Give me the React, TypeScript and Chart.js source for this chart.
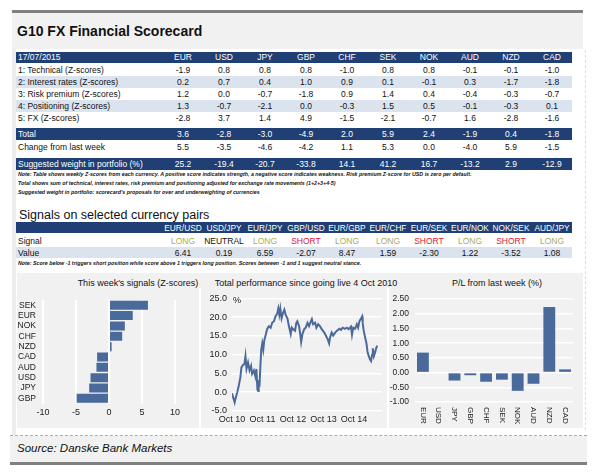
import React, { useEffect, useRef } from 'react';
import { Chart, registerables } from 'chart.js';
Chart.register(...registerables);

// ---------- DATA ----------
const reportDate = '17/07/2015';
const currencies = ['EUR', 'USD', 'JPY', 'GBP', 'CHF', 'SEK', 'NOK', 'AUD', 'NZD', 'CAD'];
const technical = [-1.9, 0.8, 0.8, 0.8, -1.0, 0.8, 0.8, -0.1, -0.1, -1.0];
const interestRates = [0.2, 0.7, 0.4, 1.0, 0.9, 0.1, -0.1, 0.3, -1.7, -1.8];
const riskPremium = [1.2, 0.0, -0.7, -1.8, 0.9, 1.4, 0.4, -0.4, -0.3, -0.7];
const positioning = [1.3, -0.7, -2.1, 0.0, -0.3, 1.5, 0.5, -0.1, -0.3, 0.1];
const fxScores = [-2.8, 3.7, 1.4, 4.9, -1.5, -2.1, -0.7, 1.6, -2.8, -1.6];
const totals = [3.6, -2.8, -3.0, -4.9, 2.0, 5.9, 2.4, -1.9, 0.4, -1.8];
const changes = [5.5, -3.5, -4.6, -4.2, 1.1, 5.3, 0.0, -4.0, 5.9, -1.5];
const weights = [25.2, -19.4, -20.7, -33.8, 14.1, 41.2, 16.7, -13.2, 2.9, -12.9];

const pairs = ['EUR/USD', 'USD/JPY', 'EUR/JPY', 'GBP/USD', 'EUR/GBP', 'EUR/CHF', 'EUR/SEK', 'EUR/NOK', 'NOK/SEK', 'AUD/JPY'];
const pairSignals = ['LONG', 'NEUTRAL', 'LONG', 'SHORT', 'LONG', 'LONG', 'SHORT', 'LONG', 'SHORT', 'LONG'];
const pairValues = [6.41, 0.19, 6.59, -2.07, 8.47, 1.59, -2.30, 1.22, -3.52, 1.08];

const signalCurrencies = ['SEK', 'EUR', 'NOK', 'CHF', 'NZD', 'CAD', 'AUD', 'USD', 'JPY', 'GBP'];
const signalScores = [5.9, 3.6, 2.4, 2.0, 0.4, -1.8, -1.9, -2.8, -3.0, -4.9];

// months since 4 Oct 2010
const perfMonths = [0, 1.05, 1.3, 2.0, 2.6, 3.3, 3.7, 4.4, 4.9, 5.3,
  5.7, 6.3, 6.9, 7.5, 7.9, 8.6, 9.2, 9.6, 10.0, 10.3,
  10.5, 10.8, 11.2, 11.5, 11.9, 12.3, 12.7, 13.2, 13.8, 14.5,
  15.2, 15.8, 16.5, 17.1, 17.8, 18.2, 18.6, 19.0, 19.5, 20.0,
  20.6, 21.1, 21.8, 22.4, 23.1, 23.5, 24.0, 24.8, 25.3, 25.7,
  26.4, 26.9, 27.2, 27.7, 28.4, 29.0, 29.7, 30.3, 31.0, 31.4,
  31.9, 32.7, 33.2, 33.9, 34.6, 35.3, 36.3, 36.9, 37.6, 38.2,
  38.6, 39.2, 39.8, 40.5, 41.3, 42.2, 42.9, 43.5, 44.4, 45.2,
  45.9, 46.8, 47.2, 47.7, 48.4, 49.1, 49.6, 50.1, 50.8, 51.2,
  51.4, 51.8, 52.5, 52.9, 53.3, 53.8, 54.3, 54.7, 55.1, 55.4,
  55.8, 56.2, 56.7, 57.1];
const perfValues = [-0.3, -2.7, -1.9, -0.2, 1.5, 4.0, 6.6, 7.3, 7.5, 9.6,
  6.2, 7.9, 5.8, 7.0, 4.9, 5.8, 4.2, 6.2, 0.7, 0.3,
  3.2, 1.5, 7.5, 11.3, 13.0, 11.3, 13.8, 15.1, 16.8, 17.6,
  17.2, 18.5, 18.9, 20.2, 21.0, 22.3, 20.6, 22.3, 19.7, 21.0,
  22.0, 20.6, 19.7, 17.6, 15.5, 17.2, 16.8, 16.4, 18.5, 18.9,
  17.6, 15.1, 13.4, 15.5, 16.8, 17.2, 18.5, 17.6, 18.9, 19.5,
  18.1, 18.5, 17.2, 18.1, 17.6, 16.8, 15.9, 15.1, 14.2, 13.0,
  14.7, 15.9, 15.1, 15.8, 16.4, 16.9, 16.6, 17.2, 16.9, 17.2,
  16.8, 17.5, 15.3, 17.2, 16.9, 18.1, 17.2, 18.9, 19.7, 20.2,
  18.5, 16.4, 14.2, 13.0, 10.8, 9.6, 8.7, 8.3, 10.0, 11.7,
  9.6, 10.4, 11.7, 12.4];
const perfTickMonths = [0, 12, 24, 36, 48];
const perfTickLabels = ['Oct 10', 'Oct 11', 'Oct 12', 'Oct 13', 'Oct 14'];

const plCurrencies = ['EUR', 'USD', 'JPY', 'GBP', 'CHF', 'SEK', 'NOK', 'AUD', 'NZD', 'CAD'];
const plValues = [0.68, 0.0, -0.27, -0.09, -0.31, -0.24, -0.62, -0.38, 2.23, 0.11];

// ---------- STYLE ----------
const FONT = '"Liberation Sans", Arial, Helvetica, sans-serif';
const NAVY = '#1f3f75';
const SHADE = '#dbe3ef';
const BAR = '#4a6a9b';
const PANEL = '#f1f1f1';
const LONG_C = '#a8ad5a';
const SHORT_C = '#d4163c';
const TXT = '#111111';

const colX = (i: number) => 183 + i * 41;

type TP = { x: number; y: number; w?: number; align?: 'left' | 'center' | 'right'; size?: number; color?: string; weight?: string | number; italic?: boolean; lh?: number; children: React.ReactNode };
function T({ x, y, w, align = 'left', size = 8.5, color = TXT, weight = 'normal', italic = false, lh = 12, children }: TP) {
  let left = x;
  const width = w ?? 0;
  if (w !== undefined) {
    if (align === 'center') left = x - width / 2;
    if (align === 'right') left = x - width;
  }
  return (
    <div style={{
      position: 'absolute', left, top: y - lh / 2, width: w, height: lh, lineHeight: lh + 'px',
      fontSize: size, color, fontWeight: weight as any, fontStyle: italic ? 'italic' : 'normal',
      textAlign: align, whiteSpace: 'nowrap', fontFamily: FONT,
    }}>{children}</div>
  );
}

function Band({ x, y, w, h, bg }: { x: number; y: number; w: number; h: number; bg: string }) {
  return <div style={{ position: 'absolute', left: x, top: y, width: w, height: h, background: bg }} />;
}

const rotatedLabels = {
  id: 'rotLabels',
  afterDraw(chart: any) {
    const { ctx } = chart;
    const xs = chart.scales.x;
    const ys = chart.scales.y;
    ctx.save();
    ctx.fillStyle = '#222';
    ctx.font = `8px ${FONT}`;
    ctx.textAlign = 'left';
    ctx.textBaseline = 'middle';
    (chart.data.labels as string[]).forEach((lab, i) => {
      const px = xs.getPixelForValue(i);
      ctx.save();
      ctx.translate(px, ys.bottom + 5);
      ctx.rotate(Math.PI / 2);
      ctx.fillText(lab, 0, 0);
      ctx.restore();
    });
    ctx.restore();
  },
};

export default function App() {
  const c1 = useRef<HTMLCanvasElement>(null);
  const c2 = useRef<HTMLCanvasElement>(null);
  const c3 = useRef<HTMLCanvasElement>(null);

  useEffect(() => {
    document.body.style.margin = '0';
    Chart.defaults.font.family = FONT;
    Chart.defaults.color = '#222';

    const ch1 = new Chart(c1.current!, {
      type: 'bar',
      data: {
        labels: signalCurrencies,
        datasets: [{ data: signalScores, backgroundColor: BAR, barPercentage: 0.87, categoryPercentage: 1 }],
      },
      options: {
        indexAxis: 'y',
        animation: false,
        responsive: false,
        maintainAspectRatio: false,
        plugins: { legend: { display: false }, tooltip: { enabled: false } },
        layout: { padding: { top: 4.5, right: 24, bottom: 0, left: 0 } },
        scales: {
          x: {
            min: -10, max: 10,
            ticks: { stepSize: 5, font: { size: 9 }, padding: 4, color: '#222' },
            grid: { color: '#ffffff', lineWidth: 2, drawTicks: false },
            border: { display: false },
            afterFit: (s: any) => { s.height = 24.5; },
          },
          y: {
            ticks: { font: { size: 8.5 }, padding: 7, color: '#222', autoSkip: false },
            grid: { display: false, drawTicks: false },
            border: { display: false },
            afterFit: (s: any) => { s.width = 26; },
          },
        },
      },
    });

    const ch2 = new Chart(c2.current!, {
      type: 'line',
      data: {
        datasets: [{
          data: perfMonths.map((m, i) => ({ x: m, y: perfValues[i] })),
          borderColor: BAR, borderWidth: 2, pointRadius: 0, tension: 0, fill: false,
        }],
      },
      options: {
        animation: false,
        responsive: false,
        maintainAspectRatio: false,
        plugins: { legend: { display: false }, tooltip: { enabled: false } },
        layout: { padding: { top: 5.5, right: 5, bottom: 0, left: 0 } },
        scales: {
          x: {
            type: 'linear', min: 0, max: 59,
            afterBuildTicks: (s: any) => { s.ticks = perfTickMonths.map((v) => ({ value: v })); },
            ticks: {
              font: { size: 9 }, padding: 3.5, color: '#222', maxRotation: 0, autoSkip: false,
              callback: (v: any) => perfTickLabels[perfTickMonths.indexOf(Number(v))] ?? '',
            },
            grid: { display: false, drawTicks: false },
            border: { display: false },
            afterFit: (s: any) => { s.height = 17; },
          },
          y: {
            min: -5, max: 25,
            ticks: { stepSize: 5, font: { size: 9 }, padding: 5, color: '#222', callback: (v: any) => Number(v).toFixed(1) },
            grid: { color: '#ffffff', lineWidth: 1.5, drawTicks: false },
            border: { display: false },
            afterFit: (s: any) => { s.width = 31; },
          },
        },
      },
    });

    const ch3 = new Chart(c3.current!, {
      type: 'bar',
      data: {
        labels: plCurrencies,
        datasets: [{ data: plValues, backgroundColor: BAR, barPercentage: 0.75, categoryPercentage: 1 }],
      },
      options: {
        animation: false,
        responsive: false,
        maintainAspectRatio: false,
        plugins: { legend: { display: false }, tooltip: { enabled: false } },
        layout: { padding: { top: 6, right: 10, bottom: 0, left: 0 } },
        scales: {
          x: {
            ticks: { display: false },
            grid: { display: false, drawTicks: false },
            border: { display: false },
            afterFit: (s: any) => { s.height = 26; },
          },
          y: {
            min: -1, max: 2.5,
            ticks: { stepSize: 0.5, font: { size: 8.5 }, padding: 6, color: '#222', callback: (v: any) => Number(v).toFixed(2) },
            grid: { color: '#ffffff', lineWidth: 1.5, drawTicks: false },
            border: { display: false },
            afterFit: (s: any) => { s.width = 26; },
          },
        },
      },
      plugins: [rotatedLabels],
    });

    return () => { ch1.destroy(); ch2.destroy(); ch3.destroy(); };
  }, []);

  const fmt1 = (v: number) => v.toFixed(1);
  const rows: { label: string; vals: number[]; y: number; shade: boolean }[] = [
    { label: '1: Technical (Z-scores)', vals: technical, y: 70, shade: false },
    { label: '2: Interest rates (Z-scores)', vals: interestRates, y: 82, shade: true },
    { label: '3: Risk premium (Z-scores)', vals: riskPremium, y: 94, shade: false },
    { label: '4: Positioning (Z-scores)', vals: positioning, y: 106, shade: true },
    { label: '5: FX (Z-scores)', vals: fxScores, y: 118, shade: false },
  ];

  return (
    <div style={{ position: 'absolute', left: 0, top: 0, width: 598, height: 476, background: '#fff', fontFamily: FONT, overflow: 'hidden' }}>
      {/* frame */}
      <Band x={12} y={10} w={571} h={2.5} bg="#808080" />
      <Band x={12} y={12.5} w={571} h={36.5} bg={PANEL} />
      <Band x={12} y={49} w={4} h={386} bg="#ececec" />
      <div style={{ position: 'absolute', left: 585, top: 50, width: 0, height: 380, borderLeft: '1px dashed #dddddd' }} />
      <T x={17} y={31} size={14} weight="bold" lh={18} color="#111">G10 FX Financial Scorecard</T>

      {/* scorecard table */}
      <Band x={16} y={51.5} w={556} h={11.5} bg={NAVY} />
      <T x={18} y={57.2} color="#fff">{reportDate}</T>
      {currencies.map((c, i) => <T key={c} x={colX(i)} y={57.2} w={36} align="center" color="#fff">{c}</T>)}

      {rows.map((r) => (
        <React.Fragment key={r.label}>
          {r.shade && <Band x={16} y={r.y - 5.8} w={556} h={11.5} bg={SHADE} />}
          <T x={18} y={r.y}>{r.label}</T>
          {r.vals.map((v, i) => <T key={i} x={colX(i)} y={r.y} w={36} align="center">{fmt1(v)}</T>)}
        </React.Fragment>
      ))}

      <Band x={16} y={128} w={556} h={11.5} bg={NAVY} />
      <T x={18} y={134} color="#fff">Total</T>
      {totals.map((v, i) => <T key={i} x={colX(i)} y={134} w={36} align="center" color="#fff">{fmt1(v)}</T>)}
      <T x={18} y={146.5}>Change from last week</T>
      {changes.map((v, i) => <T key={i} x={colX(i)} y={146.5} w={36} align="center">{fmt1(v)}</T>)}
      <Band x={16} y={158} w={556} h={11.5} bg={NAVY} />
      <T x={18} y={163.8} color="#fff">Suggested weight in portfolio (%)</T>
      {weights.map((v, i) => <T key={i} x={colX(i)} y={163.8} w={36} align="center" color="#fff">{fmt1(v)}</T>)}

      <T x={18} y={174} size={5.3} weight="bold" italic lh={8}>Note: Table shows weekly Z-scores from each currency. A positive score indicates strength, a negative score indicates weakness. Risk premium Z-score for USD is zero per default.</T>
      <T x={18} y={183} size={5.3} weight="bold" italic lh={8}>Total shows sum of technical, interest rates, risk premium and positioning adjusted for exchange rate movements (1+2+3+4-5)</T>
      <T x={18} y={192} size={5.3} weight="bold" italic lh={8}>Suggested weight in portfolio: scorecard's proposals for over and underweighting of currencies</T>

      {/* signals table */}
      <T x={19} y={215} size={12.5} lh={16} color="#111">Signals on selected currency pairs</T>
      <Band x={16} y={221.8} w={556} h={11.5} bg={NAVY} />
      {pairs.map((p, i) => <T key={p} x={colX(i)} y={227.6} w={44} align="center" color="#fff" size={8.3}>{p}</T>)}
      <T x={18} y={241}>Signal</T>
      {pairSignals.map((s, i) => (
        <T key={i} x={colX(i)} y={241} w={44} align="center" color={s === 'LONG' ? LONG_C : s === 'SHORT' ? SHORT_C : TXT}>{s}</T>
      ))}
      <Band x={16} y={246.8} w={556} h={11.5} bg={SHADE} />
      <T x={18} y={252.5}>Value</T>
      {pairValues.map((v, i) => <T key={i} x={colX(i)} y={252.5} w={44} align="center">{v.toFixed(2)}</T>)}
      <T x={18} y={263} size={5.3} weight="bold" italic lh={8}>Note: Score below -1 triggers short position while score above 1 triggers long position. Scores between -1 and 1 suggest neutral stance.</T>

      {/* chart band */}
      <Band x={17} y={273} w={566} h={155} bg={PANEL} />
      <Band x={199} y={288} w={2} h={140} bg="#ffffff" />
      <Band x={387} y={288} w={2} h={140} bg="#ffffff" />
      <T x={138} y={283} w={180} align="center" size={9} color="#111">This week's signals (Z-scores)</T>
      <T x={306} y={283} w={200} align="center" size={9} color="#111">Total performance since going live 4 Oct 2010</T>
      <T x={497} y={283} w={160} align="center" size={9} color="#111">P/L from last week (%)</T>

      <canvas ref={c1} width={182} height={140} style={{ position: 'absolute', left: 17, top: 288, width: 182, height: 140 }} />
      <canvas ref={c2} width={186} height={140} style={{ position: 'absolute', left: 201, top: 288, width: 186, height: 140 }} />
      <canvas ref={c3} width={194} height={140} style={{ position: 'absolute', left: 389, top: 288, width: 194, height: 140 }} />
      <T x={233} y={300} size={9} color="#111">%</T>

      {/* footer */}
      <div style={{ position: 'absolute', left: 10, top: 435, width: 577, height: 0, borderTop: '1px dashed #aaaaaa' }} />
      <Band x={10} y={436} w={577} h={26} bg={PANEL} />
      <Band x={10} y={462} w={577} h={2.5} bg="#808080" />
      <T x={17} y={447.5} size={11.5} italic lh={14} color="#111">Source: Danske Bank Markets</T>
    </div>
  );
}
